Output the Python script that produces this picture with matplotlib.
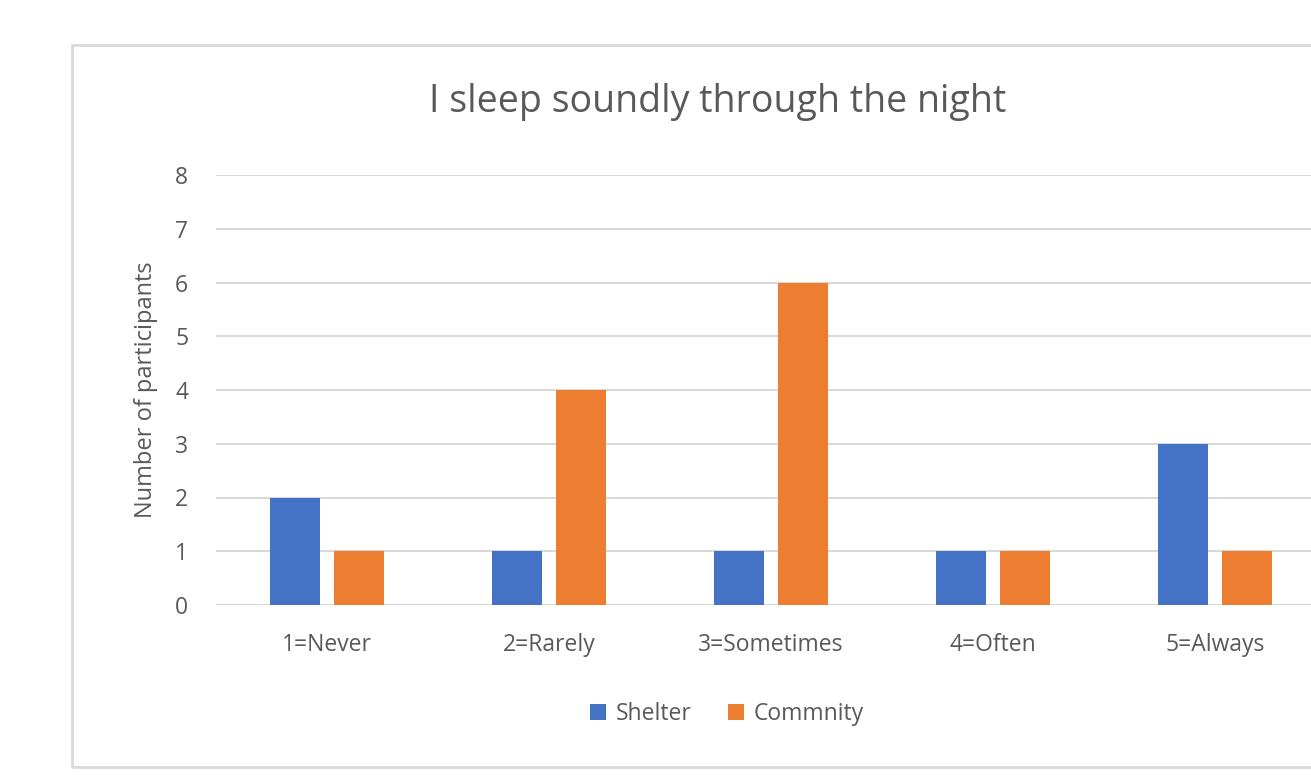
import numpy as np
import matplotlib.pyplot as plt
from matplotlib.patches import Rectangle

categories = ["1=Never", "2=Rarely", "3=Sometimes", "4=Often", "5=Always"]
shelter = [2, 1, 1, 1, 3]
community = [1, 4, 6, 1, 1]

plt.rcParams['font.family'] = ['Open Sans', 'DejaVu Sans']
W, H = 1311, 783
fig = plt.figure(figsize=(W / 100, H / 100), dpi=100)

# chart border (runs off the right edge like the original)
fig.patches.append(Rectangle((72 / W, 1 - 767 / H), 1.2, (767 - 45) / H,
                             transform=fig.transFigure, fill=False,
                             edgecolor="#d9d9d9", linewidth=2))

# plot area: x from 216 to 1326 px, y from 175 (8) to 605 (0)
ax = fig.add_axes([216 / W, 1 - 605 / H, (1326 - 216) / W, (605 - 175) / H])
x = np.arange(len(categories))
w = 0.222
off = 0.144
ax.bar(x - off, shelter, w, color="#4472C4", label="Shelter", zorder=3)
ax.bar(x + off, community, w, color="#ED7D31", label="Commnity", zorder=3)

ax.set_xlim(-0.5, 4.5)
ax.set_ylim(0, 8)
ax.set_yticks(range(0, 9))
ax.set_xticks(x)
ax.set_xticklabels(categories)
ax.yaxis.grid(True, color="#d9d9d9", linewidth=1.5, zorder=0)
for s in ax.spines.values():
    s.set_visible(False)
ax.tick_params(length=0, labelsize=16.5, colors="#595959")
ax.tick_params(axis="y", pad=20)
ax.tick_params(axis="x", pad=20)
ax.set_ylabel("Number of participants", fontsize=17, color="#595959", labelpad=12)

fig.text(718 / W, 1 - 102 / H, "I sleep soundly through the night",
         ha="center", va="center", fontsize=27, color="#595959")

fig.legend(loc="center", bbox_to_anchor=(727 / W, 1 - 714 / H), ncol=2,
           frameon=False, fontsize=16.5, handlelength=0.7, handleheight=0.7,
           handletextpad=0.4, columnspacing=1.6, labelcolor="#595959")

fig.savefig("out.png", dpi=100)
